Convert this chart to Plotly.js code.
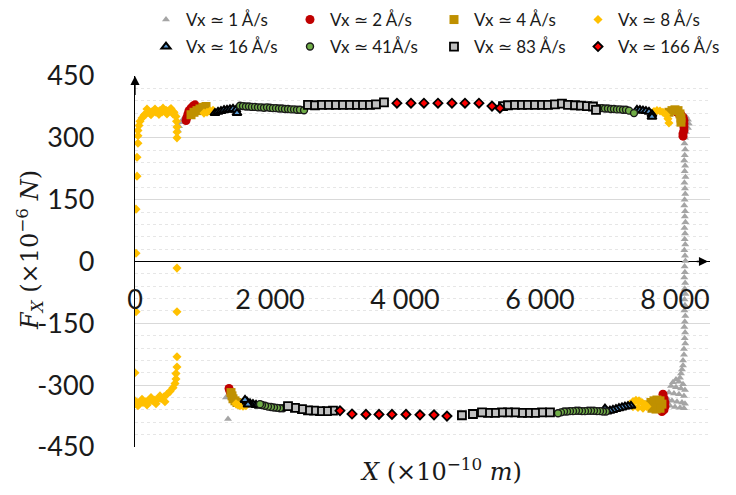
<!DOCTYPE html>
<html><head><meta charset="utf-8">
<script src="https://cdn.plot.ly/plotly-3.0.1.min.js"></script>
<style>html,body{margin:0;padding:0;background:#fff}#chart{width:736px;height:495px}</style>
</head><body><div id="chart"></div>
<script>
const seriesNames = ['Vx ≃ 1 Å/s','Vx ≃ 2 Å/s','Vx ≃ 4 Å/s','Vx ≃ 8 Å/s','Vx ≃ 16 Å/s','Vx ≃ 41Å/s','Vx ≃ 83 Å/s','Vx ≃ 166 Å/s'];

const x1 = [637,652,681,711,741,770,
  8163,8193,8207,8193,8163,
  8148,8141,8152,8145,8137,8150,8144,8156,8140,8148,8152,8143,8138,8150,8146,8155,8141,8149,8144,8152,8139,8148,8155,8143,8147,8138,8151,8145,8156,8142,8148,8140,8153,8146,8139,8150,8144,8152,
  8133,8133,8119,8119,8104,8089,8074,8015,7970,8059,8119,7941,8015,8089,8148,7911,7985,8059,8133,7896,7956,8030,8104,8148,7926,8000,8074,8133,
  1348,1378];
const y1 = [318,328,338,345,350,355,
  352,344,334,324,314,
  300,286,272,258,245,232,219,205,191,177,164,150,136,122,109,95,81,68,54,41,27,14,1,-12,-26,-39,-52,-66,-79,-92,-106,-119,-132,-146,-159,-172,-186,-199,
  -212,-226,-240,-252,-262,-272,-282,-286,-293,-292,-298,-302,-305,-308,-312,-318,-320,-322,-326,-335,-338,-340,-342,-345,-350,-353,-355,-356,
  -330,-382];

const x2 = [756,770,785,800,830,859,889,8030,8059,8089,8119,8133,8133,8133,8133,8119,8119,7822,7837,7852,7852,7837,7807,1393,1407,1422];
const y2 = [342,350,358,366,372,377,380,362,360,356,350,342,334,326,318,310,304,-322,-332,-342,-352,-360,-364,-308,-315,-320];

const x3 = [830,874,919,963,1007,1052,7911,7956,8000,8045,8074,8089,8089,7600,7644,7689,7733,7778,7807,7778,7719,7659,1422,1437,1452,1481,1511,1556];
const y3 = [356,362,366,370,374,376,362,366,368,366,358,348,338,-348,-342,-338,-336,-338,-346,-356,-358,-356,-318,-326,-333,-338,-342,-345];

const x4 = [0,15,15,15,30,30,44,44,44,59,74,104,133,163,178,193,222,237,252,281,296,311,341,355,370,400,415,430,459,474,489,519,533,548,563,578,
  607,615,622,622,622,622,622,622,622,607,607,593,563,519,474,444,430,385,370,341,311,296,252,237,207,178,163,119,104,74,44,30,0,
  1022,1067,1111,1156,
  7689,7733,7778,7822,7867,7896,7911,
  7333,7378,7422,7467,7511,7556,7585,7526,7452,7378,
  1496,1526,1556,1600,1644];
const y4 = [-270,-122,20,127,207,253,287,305,318,330,340,348,355,358,370,362,360,356,363,365,370,362,364,357,366,363,372,365,367,358,365,368,371,366,358,362,
  352,340,326,314,300,-16,-122,-231,-256,-272,-285,-296,-306,-315,-322,-340,-328,-332,-326,-334,-345,-336,-337,-330,-338,-348,-340,-342,-334,-343,-350,-342,-338,
  360,362,365,367,
  364,366,365,362,356,346,336,
  -346,-340,-337,-338,-342,-347,-352,-356,-354,-352,
  -345,-348,-350,-351,-350];

const x5 = [1185,1230,1274,1319,1363,1407,1452,1496,1511,
  7437,7481,7526,7570,7615,7659,7659,
  7348,7304,7259,7215,7170,7126,7081,7037,6993,6963,
  1837,1793,1748,1704,1659,1630,1674];
const y5 = [360,363,365,367,368,369,370,368,360,
  368,367,366,365,363,357,351,
  -350,-351,-352,-354,-356,-358,-360,-362,-364,-357,
  -350,-348,-346,-344,-340,-336,-347];

const x6 = [1556,1600,1644,1689,1733,1778,1822,1867,1911,1956,2000,2044,2089,2133,2178,2222,2267,2311,2356,2400,2444,2504,
  6874,6919,6963,7007,7052,7096,7141,7185,7230,7274,7319,7393,
  6978,6933,6889,6844,6800,6756,6711,6667,6622,6578,6533,6489,6444,6400,6356,6311,6267,
  2193,2148,2104,2059,2015,1970,1926,1881,1852];
const y6 = [378,377,376,376,375,375,374,374,373,374,373,372,372,371,371,370,370,369,369,368,368,367,
  372,372,371,371,370,370,369,369,368,368,366,360,
  -364,-364,-363,-363,-362,-362,-362,-363,-363,-362,-362,-363,-363,-364,-364,-366,-368,
  -356,-356,-355,-354,-353,-352,-350,-348,-346];

const x7 = [2563,2667,2770,2874,2978,3081,3185,3289,3378,3481,3570,3689,
  5452,5526,5630,5733,5822,5926,6030,6119,6222,6326,6415,6519,6607,6696,6785,6830,
  6148,6030,5926,5822,5733,5630,5526,5437,5333,5230,5141,5007,4844,
  2933,2844,2741,2652,2563,2474,2370,2267];
const y7 = [380,379,380,380,380,380,380,380,380,380,381,386,
  377,379,380,380,380,380,380,380,381,383,380,379,378,377,376,368,
  -366,-366,-367,-367,-367,-366,-366,-366,-367,-367,-366,-370,-373,
  -362,-363,-363,-362,-361,-358,-355,-351];

const x8 = [3881,4089,4281,4489,4696,4889,5096,5289,5407,4622,4430,4222,4015,3807,3615,3422,3215,3037];
const y8 = [384,384,384,384,384,384,384,377,372,-375,-372,-372,-371,-371,-371,-371,-370,-362];

const xTickVals = [0,2000,4000,6000,8000];
const xTickText = ['0','2 000','4 000','6 000','8 000'];
const yTickVals = [-450,-300,-150,0,150,300,450];
const yTickText = ['-450','-300','-150','0','150','300','450'];

const xs = [x1,x2,x3,x4,x5,x6,x7,x8];
const ys = [y1,y2,y3,y4,y5,y6,y7,y8];
const markers = [
  {symbol:'triangle-up', size:7, color:'#A5A5A5', line:{width:0}},
  {symbol:'circle', size:9, color:'#C00000', line:{width:0}},
  {symbol:'square', size:9, color:'#BF9000', line:{width:0}},
  {symbol:'diamond', size:7, color:'#FFC000', line:{width:0}},
  {symbol:'triangle-up', size:8, color:'#5B9BD5', line:{width:2, color:'#000'}},
  {symbol:'circle', size:7, color:'#70AD47', line:{width:1.4, color:'#1a1a1a'}},
  {symbol:'square', size:8, color:'#BFBFBF', line:{width:1.8, color:'#000'}},
  {symbol:'diamond', size:7, color:'#FF0000', line:{width:1.8, color:'#000'}}
];

const traces = xs.map((xx,i)=>({
  type:'scatter', mode:'markers', x:xx, y:ys[i], name:seriesNames[i],
  marker:markers[i], legend: i<4 ? 'legend' : 'legend2', hoverinfo:'skip'
}));

const legendBase = {orientation:'h', xref:'container', yref:'container', xanchor:'left', yanchor:'middle',
  x:146/736, entrywidth:99, entrywidthmode:'pixels', bgcolor:'rgba(0,0,0,0)',
  font:{family:'Lato', size:17, color:'#1a1a1a'}, itemclick:false, itemdoubleclick:false};

const layout = {
  width:736, height:495,
  margin:{l:135, r:26, t:76, b:48},
  paper_bgcolor:'#fff', plot_bgcolor:'#fff',
  showlegend:true,
  legend: Object.assign({}, legendBase, {y:1-20/495}),
  legend2: Object.assign({}, legendBase, {y:1-47/495}),
  font:{family:'Lato', color:'#1a1a1a'},
  xaxis:{range:[0,8519], anchor:'free', position:0.5, showgrid:false, zeroline:false, showline:false,
    tickvals:xTickVals, ticktext:xTickText, ticks:'', ticklabelstandoff:19,
    tickfont:{family:'Lato', size:27, color:'#1a1a1a'}},
  yaxis:{range:[-450,450], tickvals:yTickVals, ticktext:yTickText, ticks:'',
    showgrid:true, gridcolor:'#D9D9D9', gridwidth:1.3,
    minor:{dtick:30, tick0:0, showgrid:true, gridcolor:'#E6E6E6', griddash:'dot', gridwidth:1},
    zeroline:true, zerolinecolor:'#000', zerolinewidth:1.3,
    showline:true, linecolor:'#000', linewidth:1.3,
    ticklabelstandoff:34, tickfont:{family:'Lato', size:27, color:'#1a1a1a'}},
  annotations:[
    {x:0, y:450, ax:0, ay:400, xref:'x', yref:'y', axref:'x', ayref:'y', text:'', showarrow:true,
      arrowhead:2, arrowsize:1.4, arrowwidth:1.3, arrowcolor:'#000'},
    {x:8490, y:0, ax:8300, ay:0, xref:'x', yref:'y', axref:'x', ayref:'y', text:'', showarrow:true,
      arrowhead:2, arrowsize:1.4, arrowwidth:1.3, arrowcolor:'#000'},
    {xref:'paper', yref:'paper', x:(30-135)/575, y:(447-250)/371, xanchor:'center', yanchor:'middle',
      textangle:-90, showarrow:false,
      text:'<i>F</i><sub><i>X</i></sub> (×10<sup>−6</sup> <i>N</i>)',
      font:{family:'DejaVu Serif', size:24, color:'#1a1a1a'}},
    {xref:'paper', yref:'paper', x:(441-135)/575, y:(447-470)/371, xanchor:'center', yanchor:'middle',
      showarrow:false,
      text:'<i>X</i> (×10<sup>−10</sup> <i>m</i>)',
      font:{family:'DejaVu Serif', size:24, color:'#1a1a1a'}}
  ]
};

Plotly.newPlot('chart', traces, layout, {staticPlot:true, displayModeBar:false});
</script></body></html>
